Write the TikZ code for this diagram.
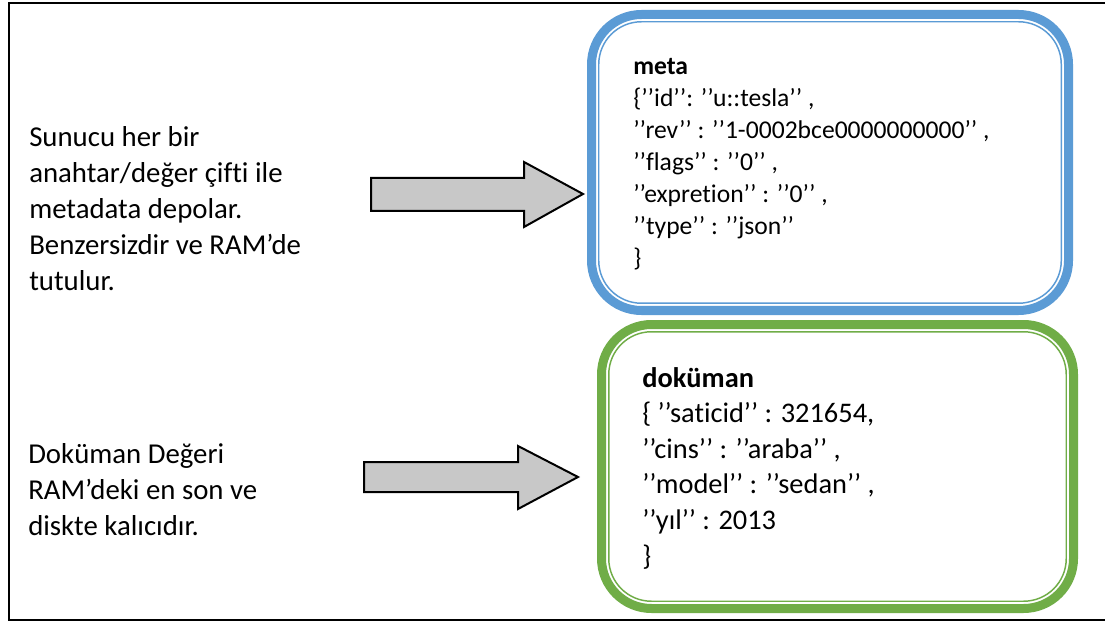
\documentclass[tikz,border=0pt]{standalone}
\usepackage{fontspec}
\setmainfont{Carlito}[Ligatures={TeX,NoCommon}]
\definecolor{boxblue}{HTML}{5B9BD5}
\definecolor{boxgreen}{HTML}{70AD47}
\definecolor{arrowgray}{HTML}{C8C8C8}
\tikzset{
  frame/.style={draw=black, line width=1.9pt},
  bandouter/.style={draw, line width=6.75pt, rounded corners=37.5pt, inner sep=0pt, outer sep=0pt},
  bandinner/.style={draw, line width=1.1pt, rounded corners=32pt, inner sep=0pt, outer sep=0pt},
  lefttext/.style={anchor=base west, inner sep=0pt, align=left, font={\fontsize{21.6}{27}\selectfont}},
  metatext/.style={anchor=base west, inner sep=0pt, align=left, font={\fontsize{19.2}{24}\selectfont}},
  doctext/.style={anchor=base west, inner sep=0pt, align=left, font={\fontsize{21.3}{26.7}\selectfont}},
  blockarrow/.style={draw=black, line width=1.5pt, fill=arrowgray, line join=miter},
}
\begin{document}
\begin{tikzpicture}[x=0.75pt,y=-0.75pt]
\useasboundingbox (0,0) rectangle (1105,623);
\clip (0,0) rectangle (1105,623);
\fill[white] (0,0) rectangle (1105,623);
% outer frame
\draw[frame] (9,3) rectangle (1115,620);
% meta box
\node[bandouter, draw=boxblue, minimum width=357.75pt, minimum height=222pt] (metaouter) at (830,162.5) {};
\node[bandinner, draw=boxblue, minimum width=346.9pt, minimum height=211.1pt] (metainner) at (830,162.5) {};
% document box
\node[bandouter, draw=boxgreen, minimum width=354pt, minimum height=213pt] (docouter) at (837.5,466.5) {};
\node[bandinner, draw=boxgreen, minimum width=343.1pt, minimum height=202.1pt] (docinner) at (837.5,466.5) {};
% texts (anchored at the baseline of the last line)
\node[lefttext] (lefttop) at (29,291) {Sunucu her bir\\anahtar/değer çifti ile\\metadata depolar.\\Benzersizdir ve RAM’de\\tutulur.};
\node[lefttext] (leftbottom) at (28,535) {Doküman Değeri\\RAM’deki en son ve\\diskte kalıcıdır.};
\node[metatext] (meta) at (633,267) {\textbf{meta}\\\{’’id’’: ’’u::tesla’’ ,\\’’rev’’ : ’’1-0002bce0000000000’’ ,\\’’flags’’ : ’’0’’ ,\\’’expretion’’ : ’’0’’ ,\\’’type’’ : ’’json’’\\\}};
\node[doctext] (doc) at (642,565) {\textbf{doküman}\\\{ ’’saticid’’ : 321654,\\’’cins’’ : ’’araba’’ ,\\’’model’’ : ’’sedan’’ ,\\’’yıl’’ : 2013\\\}};
% block arrows
\coordinate (a1tip) at (583,194);
\coordinate (a2tip) at (578,477);
\draw[blockarrow] (371,178) -- (524,178) -- (524,162) -- (a1tip) -- (524,227) -- (524,211) -- (371,211) -- cycle;
\draw[blockarrow] (364,462) -- (518,462) -- (518,446) -- (a2tip) -- (518,509) -- (518,492) -- (364,492) -- cycle;
\end{tikzpicture}
\end{document}
